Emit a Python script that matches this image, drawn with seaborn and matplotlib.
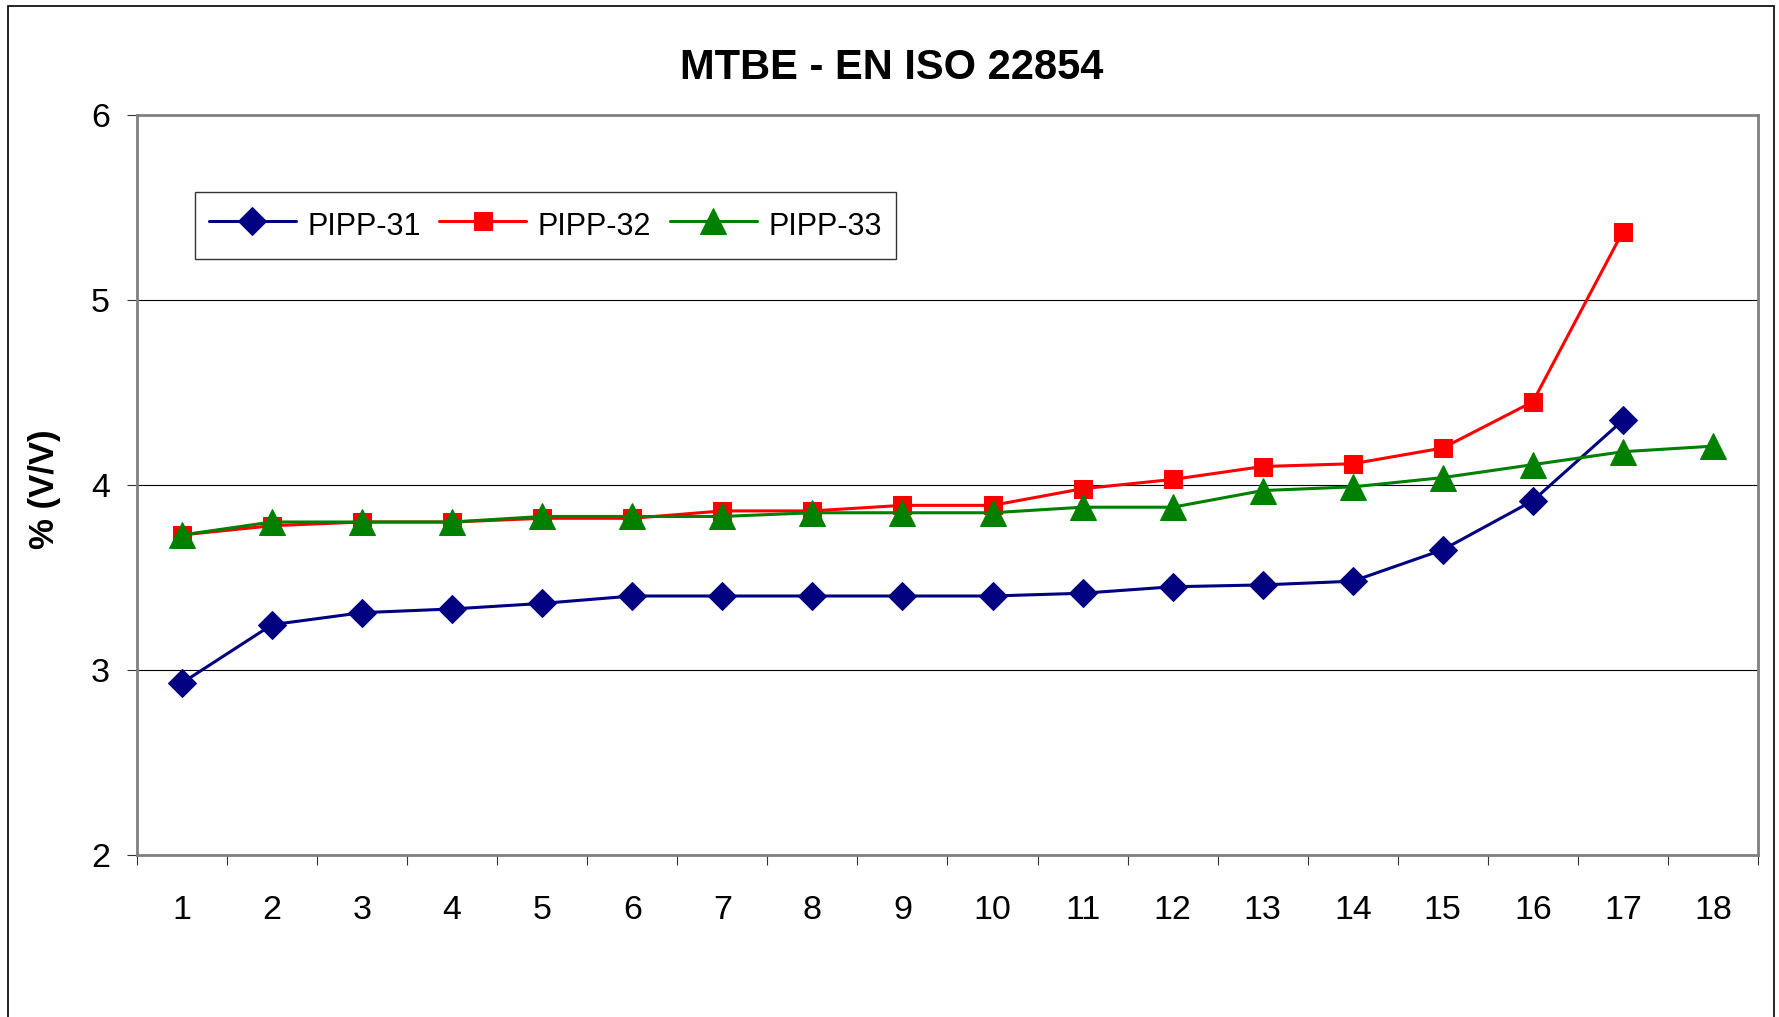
import numpy as np
import pandas as pd
import matplotlib
matplotlib.use('Agg')
import matplotlib.pyplot as plt
from matplotlib.patches import Rectangle
from matplotlib.ticker import FixedLocator
import seaborn as sns

# data
labs = ['1', '2', '3', '4', '5', '6', '7', '8', '9', '10', '11', '12', '13', '14', '15', '16', '17', '18']
pipp31 = [2.93, 3.245, 3.31, 3.33, 3.36, 3.40, 3.40, 3.40, 3.40, 3.40, 3.415, 3.45, 3.46, 3.48, 3.65, 3.915, 4.35]
pipp32 = [3.73, 3.78, 3.80, 3.80, 3.82, 3.82, 3.86, 3.86, 3.89, 3.89, 3.98, 4.03, 4.10, 4.115, 4.20, 4.45, 5.37]
pipp33 = [3.73, 3.80, 3.80, 3.80, 3.83, 3.83, 3.83, 3.85, 3.85, 3.85, 3.88, 3.88, 3.97, 3.99, 4.04, 4.11, 4.18, 4.21]
series_names = ['PIPP-31', 'PIPP-32', 'PIPP-33']
title = 'MTBE - EN ISO 22854'
ylab = '% (V/V)'
yticks = [2, 3, 4, 5, 6]

sns.set_style('white')
plt.rcParams['font.family'] = ['Liberation Sans', 'DejaVu Sans']
plt.rcParams['text.color'] = 'black'
plt.rcParams['axes.labelcolor'] = 'black'
plt.rcParams['xtick.color'] = 'black'
plt.rcParams['ytick.color'] = 'black'

fig = plt.figure(figsize=(17.79, 10.17), dpi=100)
ax = fig.add_axes([0.0770, 0.1593, 0.9112, 0.7276])

styles = {
    'PIPP-31': dict(color='#000080', marker='D', markersize=14),
    'PIPP-32': dict(color='#FF0000', marker='s', markersize=13.5),
    'PIPP-33': dict(color='#008000', marker='^', markersize=18.5),
}
for name, vals in zip(series_names, [pipp31, pipp32, pipp33]):
    df = pd.DataFrame({'x': np.arange(1, len(vals) + 1), 'y': vals})
    st = styles[name]
    sns.lineplot(data=df, x='x', y='y', ax=ax, color=st['color'], marker=st['marker'],
                 markersize=st['markersize'], markeredgecolor=st['color'],
                 linewidth=2.2, label=name)

ax.set_xlim(0.5, 18.5)
ax.set_ylim(2, 6)
ax.set_xticks(np.arange(1, 19))
ax.set_xticklabels(labs)
ax.xaxis.set_minor_locator(FixedLocator(np.arange(0.5, 19, 1)))
ax.tick_params(axis='x', which='major', length=0, pad=29, labelsize=24.5, labelcolor='black')
ax.tick_params(axis='x', which='minor', length=7.5, width=0.8, direction='out', color='#333333', bottom=True)
ax.set_yticks(yticks)
ax.tick_params(axis='y', which='major', length=7.5, width=0.8, direction='out', color='#333333',
               left=True, pad=12, labelsize=24.5, labelcolor='black')
for y in yticks[1:-1]:
    ax.axhline(y, color='black', linewidth=0.8, zorder=0)

for sp in ax.spines.values():
    sp.set_color('#808080')
    sp.set_linewidth(2.0)

ax.set_xlabel('')
ax.set_ylabel(ylab, fontsize=25, fontweight='bold', color='black')
ax.yaxis.set_label_coords(-0.047, 0.494)

fig.text(0.5015, 0.933, title, ha='center', va='center', fontsize=30, fontweight='bold', color='black')

leg = ax.legend(loc='upper left', bbox_to_anchor=(0.0358, 0.896), borderaxespad=0, ncol=3,
                fontsize=22, frameon=True, fancybox=False, edgecolor='black',
                handlelength=2.85, handletextpad=0.38, columnspacing=0.6, borderpad=0.45,
                handleheight=1.6)
leg.get_frame().set_linewidth(1.0)
for t in leg.get_texts():
    t.set_color('black')

fig.patches.append(Rectangle((8 / 1779, -0.02), (1774 - 8) / 1779, 1.02 - 6 / 1017,
                             transform=fig.transFigure, fill=False, edgecolor='black',
                             linewidth=1.2))

fig.savefig('out.png', dpi=100)
